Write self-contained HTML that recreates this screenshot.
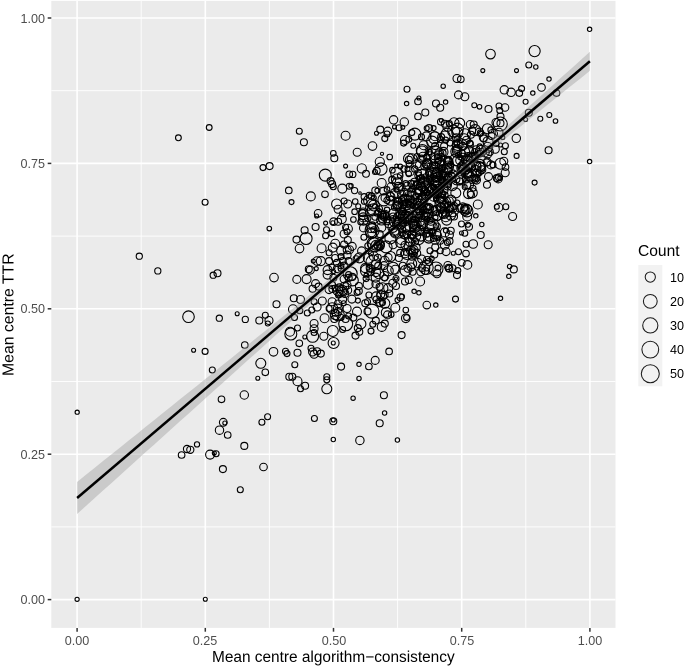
<!DOCTYPE html>
<html><head><meta charset="utf-8"><style>
html,body{margin:0;padding:0;background:#fff;}
body{width:685px;height:666px;position:relative;overflow:hidden;font-family:"Liberation Sans",sans-serif;}
#wrap{position:absolute;left:0;top:0;width:685px;height:666px;}
svg{position:absolute;left:0;top:0;}
.s{position:absolute;transform:scale(0.5);transform-origin:0 0;will-change:transform;white-space:nowrap;}
.yl{width:80px;text-align:right;font-size:25.2px;line-height:30px;color:#4D4D4D;}
.xl{width:80px;text-align:center;font-size:25.2px;line-height:30px;color:#4D4D4D;}
.ll{font-size:25.2px;line-height:30px;color:#000;}
.t{font-size:31.2px;line-height:36px;color:#000;}
</style></head><body><div id="wrap">
<svg width="685" height="666" viewBox="0 0 685 666">
<g fill="none" stroke="#000" stroke-width="1.1">
<rect x="51.3" y="0.9" width="564.2" height="627.0" fill="#EBEBEB" stroke="none"/>
<line x1="141.20" y1="0.9" x2="141.20" y2="627.9" stroke="#fff" stroke-width="0.9"/>
<line x1="51.3" y1="526.90" x2="615.5" y2="526.90" stroke="#fff" stroke-width="0.9"/>
<line x1="269.40" y1="0.9" x2="269.40" y2="627.9" stroke="#fff" stroke-width="0.9"/>
<line x1="51.3" y1="381.50" x2="615.5" y2="381.50" stroke="#fff" stroke-width="0.9"/>
<line x1="397.60" y1="0.9" x2="397.60" y2="627.9" stroke="#fff" stroke-width="0.9"/>
<line x1="51.3" y1="236.10" x2="615.5" y2="236.10" stroke="#fff" stroke-width="0.9"/>
<line x1="525.80" y1="0.9" x2="525.80" y2="627.9" stroke="#fff" stroke-width="0.9"/>
<line x1="51.3" y1="90.70" x2="615.5" y2="90.70" stroke="#fff" stroke-width="0.9"/>
<line x1="77.10" y1="0.9" x2="77.10" y2="627.9" stroke="#fff" stroke-width="1.6"/>
<line x1="51.3" y1="599.60" x2="615.5" y2="599.60" stroke="#fff" stroke-width="1.6"/>
<line x1="205.30" y1="0.9" x2="205.30" y2="627.9" stroke="#fff" stroke-width="1.6"/>
<line x1="51.3" y1="454.20" x2="615.5" y2="454.20" stroke="#fff" stroke-width="1.6"/>
<line x1="333.50" y1="0.9" x2="333.50" y2="627.9" stroke="#fff" stroke-width="1.6"/>
<line x1="51.3" y1="308.80" x2="615.5" y2="308.80" stroke="#fff" stroke-width="1.6"/>
<line x1="461.70" y1="0.9" x2="461.70" y2="627.9" stroke="#fff" stroke-width="1.6"/>
<line x1="51.3" y1="163.40" x2="615.5" y2="163.40" stroke="#fff" stroke-width="1.6"/>
<line x1="589.90" y1="0.9" x2="589.90" y2="627.9" stroke="#fff" stroke-width="1.6"/>
<line x1="51.3" y1="18.00" x2="615.5" y2="18.00" stroke="#fff" stroke-width="1.6"/>
<circle cx="178.4" cy="137.8" r="2.9"/>
<circle cx="209.2" cy="127.5" r="2.9"/>
<circle cx="205.1" cy="202.2" r="3.0"/>
<circle cx="139.3" cy="256.2" r="3.1"/>
<circle cx="157.8" cy="270.9" r="3.1"/>
<circle cx="213.2" cy="275.2" r="3.1"/>
<circle cx="217.5" cy="273.3" r="3.5"/>
<circle cx="188.5" cy="316.7" r="5.8"/>
<circle cx="219.3" cy="318.2" r="3.1"/>
<circle cx="237.2" cy="313.8" r="2.0"/>
<circle cx="245.3" cy="319.4" r="3.1"/>
<circle cx="193.6" cy="350.2" r="2.0"/>
<circle cx="205.1" cy="351.4" r="3.0"/>
<circle cx="244.8" cy="345.0" r="3.3"/>
<circle cx="212.3" cy="370.0" r="3.0"/>
<circle cx="221.5" cy="399.3" r="3.3"/>
<circle cx="244.3" cy="395.0" r="4.2"/>
<circle cx="267.6" cy="416.7" r="3.0"/>
<circle cx="261.9" cy="422.3" r="3.0"/>
<circle cx="223.3" cy="422.3" r="3.9"/>
<circle cx="224.8" cy="423.0" r="2.0"/>
<circle cx="219.5" cy="430.2" r="4.2"/>
<circle cx="227.7" cy="435.0" r="3.3"/>
<circle cx="244.3" cy="445.9" r="3.5"/>
<circle cx="197.0" cy="444.4" r="2.6"/>
<circle cx="187.0" cy="449.0" r="3.6"/>
<circle cx="190.3" cy="449.8" r="3.6"/>
<circle cx="181.6" cy="455.0" r="3.3"/>
<circle cx="210.1" cy="454.6" r="4.5"/>
<circle cx="214.3" cy="453.0" r="2.0"/>
<circle cx="216.1" cy="453.8" r="3.0"/>
<circle cx="222.9" cy="469.1" r="3.5"/>
<circle cx="263.5" cy="467.0" r="3.8"/>
<circle cx="240.3" cy="489.8" r="3.0"/>
<circle cx="77.2" cy="412.2" r="2.1"/>
<circle cx="77.1" cy="599.3" r="2.1"/>
<circle cx="205.3" cy="599.3" r="2.0"/>
<circle cx="407.0" cy="89.3" r="3.0"/>
<circle cx="443.2" cy="86.2" r="2.2"/>
<circle cx="418.9" cy="98.0" r="2.0"/>
<circle cx="418.0" cy="101.5" r="3.3"/>
<circle cx="406.6" cy="103.6" r="2.2"/>
<circle cx="436.0" cy="103.5" r="3.5"/>
<circle cx="440.2" cy="107.7" r="3.5"/>
<circle cx="445.6" cy="102.1" r="2.2"/>
<circle cx="425.3" cy="112.5" r="3.5"/>
<circle cx="418.0" cy="116.4" r="3.3"/>
<circle cx="393.6" cy="119.8" r="4.2"/>
<circle cx="404.3" cy="122.0" r="4.2"/>
<circle cx="399.0" cy="127.8" r="3.0"/>
<circle cx="394.5" cy="126.9" r="2.0"/>
<circle cx="402.8" cy="127.3" r="2.0"/>
<circle cx="440.8" cy="121.8" r="3.3"/>
<circle cx="441.1" cy="120.6" r="1.8"/>
<circle cx="429.1" cy="128.1" r="3.5"/>
<circle cx="433.6" cy="128.1" r="2.5"/>
<circle cx="380.3" cy="129.6" r="3.5"/>
<circle cx="387.8" cy="131.1" r="4.0"/>
<circle cx="376.5" cy="133.3" r="2.0"/>
<circle cx="384.8" cy="138.6" r="3.0"/>
<circle cx="387.0" cy="134.0" r="3.0"/>
<circle cx="414.8" cy="134.1" r="6.0"/>
<circle cx="411.8" cy="132.6" r="3.0"/>
<circle cx="405.0" cy="140.0" r="4.5"/>
<circle cx="408.8" cy="139.3" r="3.0"/>
<circle cx="413.3" cy="145.8" r="2.5"/>
<circle cx="372.5" cy="146.1" r="4.3"/>
<circle cx="357.2" cy="152.2" r="4.0"/>
<circle cx="432.1" cy="141.6" r="5.5"/>
<circle cx="441.1" cy="137.1" r="3.5"/>
<circle cx="447.1" cy="134.1" r="6.0"/>
<circle cx="445.6" cy="140.1" r="3.0"/>
<circle cx="449.3" cy="123.6" r="3.0"/>
<circle cx="435.1" cy="146.1" r="3.5"/>
<circle cx="444.1" cy="146.1" r="3.5"/>
<circle cx="403.6" cy="143.1" r="3.0"/>
<circle cx="450.1" cy="143.1" r="3.0"/>
<circle cx="299.3" cy="131.2" r="3.0"/>
<circle cx="303.9" cy="142.3" r="3.5"/>
<circle cx="345.6" cy="135.7" r="4.5"/>
<circle cx="333.3" cy="153.3" r="2.8"/>
<circle cx="334.3" cy="158.3" r="3.5"/>
<circle cx="345.6" cy="166.1" r="2.0"/>
<circle cx="263.0" cy="167.6" r="3.0"/>
<circle cx="269.6" cy="166.1" r="3.5"/>
<circle cx="325.3" cy="175.1" r="6.0"/>
<circle cx="330.6" cy="181.1" r="3.5"/>
<circle cx="332.1" cy="184.1" r="3.5"/>
<circle cx="333.3" cy="186.8" r="3.0"/>
<circle cx="342.3" cy="188.6" r="4.5"/>
<circle cx="349.3" cy="174.3" r="3.3"/>
<circle cx="349.3" cy="186.3" r="3.0"/>
<circle cx="288.8" cy="190.4" r="3.3"/>
<circle cx="310.8" cy="196.4" r="4.5"/>
<circle cx="325.0" cy="194.3" r="3.3"/>
<circle cx="291.5" cy="202.1" r="2.5"/>
<circle cx="269.3" cy="228.6" r="2.3"/>
<circle cx="318.1" cy="213.3" r="3.8"/>
<circle cx="316.6" cy="216.0" r="2.0"/>
<circle cx="315.6" cy="227.0" r="3.5"/>
<circle cx="304.6" cy="230.3" r="3.5"/>
<circle cx="306.1" cy="238.5" r="6.0"/>
<circle cx="296.5" cy="239.6" r="3.5"/>
<circle cx="299.5" cy="248.6" r="4.3"/>
<circle cx="325.6" cy="223.1" r="2.0"/>
<circle cx="326.5" cy="229.8" r="3.0"/>
<circle cx="325.6" cy="235.8" r="3.0"/>
<circle cx="331.8" cy="233.6" r="3.0"/>
<circle cx="333.6" cy="221.7" r="3.8"/>
<circle cx="332.8" cy="222.8" r="2.0"/>
<circle cx="338.1" cy="221.7" r="3.5"/>
<circle cx="336.6" cy="204.0" r="5.0"/>
<circle cx="338.1" cy="209.3" r="4.0"/>
<circle cx="342.6" cy="213.8" r="3.0"/>
<circle cx="344.1" cy="201.0" r="3.0"/>
<circle cx="347.8" cy="204.0" r="4.0"/>
<circle cx="345.6" cy="227.3" r="3.0"/>
<circle cx="344.1" cy="234.0" r="4.0"/>
<circle cx="347.1" cy="231.8" r="3.0"/>
<circle cx="321.6" cy="248.3" r="4.5"/>
<circle cx="332.8" cy="247.6" r="4.5"/>
<circle cx="329.1" cy="252.8" r="3.0"/>
<circle cx="341.1" cy="250.6" r="4.5"/>
<circle cx="344.1" cy="244.5" r="3.5"/>
<circle cx="347.8" cy="240.0" r="3.5"/>
<circle cx="317.1" cy="261.1" r="4.3"/>
<circle cx="320.8" cy="261.1" r="4.5"/>
<circle cx="313.3" cy="261.1" r="2.0"/>
<circle cx="329.1" cy="261.1" r="3.5"/>
<circle cx="335.1" cy="258.0" r="3.5"/>
<circle cx="341.1" cy="256.6" r="3.0"/>
<circle cx="347.1" cy="255.1" r="4.0"/>
<circle cx="348.6" cy="261.1" r="3.5"/>
<circle cx="308.8" cy="269.3" r="3.5"/>
<circle cx="310.3" cy="270.1" r="4.0"/>
<circle cx="316.3" cy="268.6" r="2.0"/>
<circle cx="327.6" cy="270.1" r="4.5"/>
<circle cx="332.1" cy="267.1" r="3.0"/>
<circle cx="337.3" cy="268.6" r="4.0"/>
<circle cx="327.6" cy="274.6" r="4.5"/>
<circle cx="333.6" cy="271.6" r="2.0"/>
<circle cx="341.1" cy="268.6" r="3.0"/>
<circle cx="344.1" cy="265.6" r="3.5"/>
<circle cx="274.0" cy="277.6" r="4.3"/>
<circle cx="296.8" cy="279.4" r="4.0"/>
<circle cx="306.6" cy="279.1" r="4.5"/>
<circle cx="315.6" cy="283.6" r="4.0"/>
<circle cx="312.6" cy="288.8" r="3.5"/>
<circle cx="318.6" cy="286.6" r="3.5"/>
<circle cx="329.1" cy="289.6" r="4.0"/>
<circle cx="332.1" cy="285.1" r="3.5"/>
<circle cx="335.1" cy="288.1" r="3.0"/>
<circle cx="344.1" cy="279.1" r="4.0"/>
<circle cx="347.1" cy="285.1" r="4.0"/>
<circle cx="342.6" cy="291.1" r="4.0"/>
<circle cx="348.6" cy="274.6" r="3.0"/>
<circle cx="276.5" cy="304.3" r="3.5"/>
<circle cx="259.3" cy="320.5" r="3.5"/>
<circle cx="265.3" cy="315.3" r="3.0"/>
<circle cx="269.0" cy="320.5" r="4.0"/>
<circle cx="267.8" cy="323.5" r="2.5"/>
<circle cx="293.8" cy="298.3" r="3.5"/>
<circle cx="300.5" cy="299.5" r="4.0"/>
<circle cx="293.0" cy="309.3" r="4.5"/>
<circle cx="294.5" cy="317.5" r="3.0"/>
<circle cx="299.8" cy="310.8" r="3.0"/>
<circle cx="307.3" cy="313.0" r="3.0"/>
<circle cx="311.8" cy="310.0" r="3.0"/>
<circle cx="317.1" cy="307.0" r="4.0"/>
<circle cx="322.3" cy="301.0" r="4.0"/>
<circle cx="314.1" cy="301.8" r="3.0"/>
<circle cx="324.6" cy="318.3" r="4.5"/>
<circle cx="314.1" cy="323.5" r="4.0"/>
<circle cx="314.1" cy="328.8" r="4.0"/>
<circle cx="314.1" cy="332.5" r="3.0"/>
<circle cx="312.6" cy="336.3" r="6.0"/>
<circle cx="290.0" cy="331.8" r="4.5"/>
<circle cx="290.8" cy="334.0" r="6.0"/>
<circle cx="297.5" cy="328.0" r="3.0"/>
<circle cx="304.8" cy="337.0" r="2.0"/>
<circle cx="299.3" cy="343.3" r="3.3"/>
<circle cx="323.8" cy="336.3" r="4.0"/>
<circle cx="332.8" cy="331.0" r="5.5"/>
<circle cx="333.6" cy="343.0" r="5.5"/>
<circle cx="333.3" cy="343.0" r="2.0"/>
<circle cx="342.6" cy="329.5" r="3.0"/>
<circle cx="334.3" cy="319.0" r="3.5"/>
<circle cx="341.1" cy="317.5" r="3.0"/>
<circle cx="345.6" cy="319.0" r="3.5"/>
<circle cx="332.1" cy="301.8" r="4.0"/>
<circle cx="338.1" cy="304.0" r="4.0"/>
<circle cx="342.6" cy="299.5" r="4.0"/>
<circle cx="347.1" cy="308.5" r="4.0"/>
<circle cx="329.1" cy="308.5" r="3.0"/>
<circle cx="338.1" cy="311.5" r="4.0"/>
<circle cx="348.6" cy="316.0" r="3.0"/>
<circle cx="273.5" cy="351.8" r="4.3"/>
<circle cx="285.5" cy="351.3" r="3.0"/>
<circle cx="287.0" cy="353.6" r="3.0"/>
<circle cx="297.5" cy="352.8" r="3.5"/>
<circle cx="311.0" cy="348.3" r="3.0"/>
<circle cx="312.6" cy="352.0" r="4.0"/>
<circle cx="317.1" cy="351.3" r="3.5"/>
<circle cx="320.8" cy="353.6" r="3.5"/>
<circle cx="314.1" cy="354.3" r="4.0"/>
<circle cx="260.8" cy="363.3" r="5.0"/>
<circle cx="265.3" cy="372.3" r="3.3"/>
<circle cx="257.8" cy="378.3" r="2.0"/>
<circle cx="294.8" cy="364.8" r="3.0"/>
<circle cx="341.1" cy="366.6" r="3.5"/>
<circle cx="289.3" cy="376.8" r="3.5"/>
<circle cx="292.3" cy="376.8" r="3.5"/>
<circle cx="297.5" cy="381.3" r="4.5"/>
<circle cx="305.1" cy="385.8" r="3.5"/>
<circle cx="300.5" cy="388.8" r="3.0"/>
<circle cx="326.8" cy="376.8" r="3.0"/>
<circle cx="326.8" cy="379.8" r="3.0"/>
<circle cx="326.8" cy="388.8" r="5.0"/>
<circle cx="314.4" cy="418.5" r="3.0"/>
<circle cx="333.3" cy="421.2" r="3.5"/>
<circle cx="333.3" cy="420.0" r="2.0"/>
<circle cx="333.3" cy="439.5" r="2.2"/>
<circle cx="414.1" cy="291.3" r="2.2"/>
<circle cx="418.9" cy="292.8" r="2.2"/>
<circle cx="426.8" cy="305.1" r="3.8"/>
<circle cx="435.8" cy="305.1" r="2.2"/>
<circle cx="437.0" cy="273.7" r="4.0"/>
<circle cx="449.3" cy="268.8" r="3.5"/>
<circle cx="405.8" cy="310.1" r="2.8"/>
<circle cx="405.8" cy="318.3" r="4.3"/>
<circle cx="406.6" cy="317.6" r="3.0"/>
<circle cx="391.2" cy="314.6" r="2.8"/>
<circle cx="384.8" cy="323.6" r="3.5"/>
<circle cx="375.8" cy="320.6" r="3.5"/>
<circle cx="372.8" cy="324.3" r="3.0"/>
<circle cx="371.0" cy="331.1" r="3.0"/>
<circle cx="401.6" cy="335.1" r="3.5"/>
<circle cx="389.1" cy="351.4" r="3.3"/>
<circle cx="357.8" cy="328.1" r="3.5"/>
<circle cx="359.3" cy="331.8" r="3.5"/>
<circle cx="355.5" cy="335.6" r="3.5"/>
<circle cx="353.3" cy="317.6" r="3.5"/>
<circle cx="357.0" cy="311.6" r="4.5"/>
<circle cx="365.3" cy="303.3" r="3.5"/>
<circle cx="367.5" cy="301.8" r="3.0"/>
<circle cx="395.3" cy="307.8" r="4.5"/>
<circle cx="384.8" cy="303.3" r="5.0"/>
<circle cx="382.5" cy="302.6" r="3.0"/>
<circle cx="400.5" cy="297.3" r="3.5"/>
<circle cx="402.0" cy="296.5" r="2.5"/>
<circle cx="389.3" cy="293.5" r="3.5"/>
<circle cx="396.0" cy="286.0" r="3.5"/>
<circle cx="405.0" cy="281.5" r="3.5"/>
<circle cx="408.8" cy="280.0" r="3.5"/>
<circle cx="396.0" cy="278.5" r="3.0"/>
<circle cx="396.0" cy="278.5" r="1.5"/>
<circle cx="420.1" cy="281.5" r="4.5"/>
<circle cx="412.6" cy="271.8" r="3.5"/>
<circle cx="420.8" cy="271.8" r="4.0"/>
<circle cx="425.3" cy="271.0" r="3.5"/>
<circle cx="426.8" cy="268.0" r="3.0"/>
<circle cx="429.1" cy="262.0" r="3.5"/>
<circle cx="421.6" cy="259.0" r="4.0"/>
<circle cx="434.3" cy="254.5" r="3.5"/>
<circle cx="440.3" cy="250.8" r="3.0"/>
<circle cx="402.8" cy="265.8" r="3.5"/>
<circle cx="411.8" cy="253.0" r="3.5"/>
<circle cx="414.1" cy="255.3" r="3.0"/>
<circle cx="490.5" cy="54.1" r="4.8"/>
<circle cx="482.8" cy="70.6" r="2.0"/>
<circle cx="534.6" cy="51.1" r="5.6"/>
<circle cx="528.8" cy="65.0" r="3.0"/>
<circle cx="535.8" cy="67.0" r="2.2"/>
<circle cx="516.5" cy="70.6" r="2.0"/>
<circle cx="457.0" cy="78.5" r="4.0"/>
<circle cx="460.8" cy="79.3" r="3.3"/>
<circle cx="458.5" cy="94.9" r="4.0"/>
<circle cx="464.8" cy="96.8" r="4.0"/>
<circle cx="504.3" cy="89.8" r="4.2"/>
<circle cx="511.1" cy="92.3" r="4.2"/>
<circle cx="519.3" cy="93.1" r="3.3"/>
<circle cx="521.6" cy="88.6" r="3.0"/>
<circle cx="532.8" cy="93.1" r="2.2"/>
<circle cx="541.5" cy="87.4" r="3.8"/>
<circle cx="549.0" cy="79.1" r="2.2"/>
<circle cx="589.6" cy="29.3" r="2.2"/>
<circle cx="556.5" cy="93.1" r="3.3"/>
<circle cx="525.6" cy="101.8" r="2.5"/>
<circle cx="549.3" cy="115.0" r="2.5"/>
<circle cx="540.3" cy="118.8" r="2.5"/>
<circle cx="528.8" cy="112.8" r="3.5"/>
<circle cx="525.6" cy="119.5" r="2.0"/>
<circle cx="516.3" cy="138.3" r="4.2"/>
<circle cx="548.6" cy="150.3" r="3.5"/>
<circle cx="516.6" cy="155.9" r="2.5"/>
<circle cx="505.4" cy="145.8" r="3.0"/>
<circle cx="504.3" cy="151.8" r="3.0"/>
<circle cx="500.5" cy="145.0" r="2.0"/>
<circle cx="502.8" cy="137.5" r="2.0"/>
<circle cx="505.5" cy="167.1" r="3.3"/>
<circle cx="534.6" cy="182.6" r="2.5"/>
<circle cx="490.8" cy="164.9" r="4.0"/>
<circle cx="493.0" cy="164.9" r="3.0"/>
<circle cx="487.8" cy="154.0" r="4.0"/>
<circle cx="481.8" cy="169.8" r="4.0"/>
<circle cx="488.5" cy="176.6" r="4.0"/>
<circle cx="499.0" cy="177.3" r="3.5"/>
<circle cx="499.8" cy="178.1" r="2.0"/>
<circle cx="496.8" cy="178.1" r="3.5"/>
<circle cx="487.0" cy="184.8" r="3.5"/>
<circle cx="474.3" cy="105.3" r="2.5"/>
<circle cx="479.5" cy="106.8" r="2.3"/>
<circle cx="488.5" cy="109.0" r="3.5"/>
<circle cx="499.0" cy="106.0" r="3.0"/>
<circle cx="505.0" cy="107.5" r="3.8"/>
<circle cx="499.8" cy="110.5" r="3.0"/>
<circle cx="500.5" cy="116.5" r="3.5"/>
<circle cx="500.5" cy="123.3" r="3.5"/>
<circle cx="496.0" cy="122.5" r="4.0"/>
<circle cx="493.0" cy="133.8" r="4.5"/>
<circle cx="483.3" cy="137.5" r="4.0"/>
<circle cx="491.5" cy="136.0" r="3.5"/>
<circle cx="496.0" cy="143.5" r="3.0"/>
<circle cx="555.5" cy="121.0" r="2.3"/>
<circle cx="589.6" cy="161.6" r="2.2"/>
<circle cx="498.7" cy="207.5" r="4.2"/>
<circle cx="496.8" cy="206.8" r="2.5"/>
<circle cx="505.8" cy="206.8" r="3.0"/>
<circle cx="512.6" cy="216.5" r="4.0"/>
<circle cx="475.8" cy="215.8" r="2.2"/>
<circle cx="481.8" cy="224.5" r="2.2"/>
<circle cx="467.2" cy="216.5" r="4.5"/>
<circle cx="454.0" cy="216.5" r="3.5"/>
<circle cx="461.5" cy="224.0" r="3.0"/>
<circle cx="469.0" cy="226.7" r="3.5"/>
<circle cx="464.8" cy="233.3" r="3.0"/>
<circle cx="461.5" cy="233.0" r="2.0"/>
<circle cx="466.0" cy="244.3" r="3.0"/>
<circle cx="473.2" cy="244.0" r="4.3"/>
<circle cx="488.2" cy="244.7" r="4.0"/>
<circle cx="458.5" cy="251.8" r="3.0"/>
<circle cx="453.3" cy="253.3" r="2.0"/>
<circle cx="466.0" cy="253.6" r="3.3"/>
<circle cx="461.8" cy="262.8" r="3.3"/>
<circle cx="467.5" cy="264.9" r="4.3"/>
<circle cx="452.5" cy="268.3" r="3.5"/>
<circle cx="457.8" cy="270.6" r="3.0"/>
<circle cx="457.0" cy="275.1" r="3.5"/>
<circle cx="509.6" cy="266.4" r="2.2"/>
<circle cx="513.8" cy="269.4" r="3.5"/>
<circle cx="508.8" cy="276.3" r="2.2"/>
<circle cx="500.5" cy="298.3" r="2.2"/>
<circle cx="455.5" cy="299.1" r="3.0"/>
<circle cx="454.0" cy="206.0" r="3.5"/>
<circle cx="460.0" cy="208.3" r="4.0"/>
<circle cx="464.5" cy="207.5" r="3.5"/>
<circle cx="457.0" cy="203.0" r="3.0"/>
<circle cx="375.2" cy="360.4" r="4.0"/>
<circle cx="368.9" cy="366.5" r="3.3"/>
<circle cx="359.0" cy="364.3" r="2.2"/>
<circle cx="359.0" cy="378.4" r="2.2"/>
<circle cx="353.1" cy="398.2" r="2.2"/>
<circle cx="383.9" cy="395.3" r="3.5"/>
<circle cx="384.6" cy="413.0" r="2.2"/>
<circle cx="379.7" cy="423.2" r="3.5"/>
<circle cx="359.9" cy="440.4" r="4.2"/>
<circle cx="397.4" cy="440.0" r="2.2"/>
<circle cx="382.0" cy="153.8" r="1.6"/>
<circle cx="389.7" cy="157.0" r="2.8"/>
<circle cx="408.7" cy="158.5" r="5.2"/>
<circle cx="379.8" cy="161.8" r="4.6"/>
<circle cx="381.0" cy="169.0" r="6.1"/>
<circle cx="375.0" cy="172.0" r="2.5"/>
<circle cx="376.8" cy="170.8" r="3.4"/>
<circle cx="361.8" cy="168.4" r="4.6"/>
<circle cx="366.0" cy="173.8" r="3.4"/>
<circle cx="352.8" cy="174.4" r="3.1"/>
<circle cx="392.4" cy="170.2" r="2.8"/>
<circle cx="396.6" cy="166.0" r="1.9"/>
<circle cx="400.2" cy="166.6" r="2.5"/>
<circle cx="400.2" cy="175.6" r="2.8"/>
<circle cx="403.9" cy="169.0" r="3.1"/>
<circle cx="407.5" cy="169.0" r="2.5"/>
<circle cx="351.0" cy="185.8" r="2.2"/>
<circle cx="354.6" cy="190.6" r="3.1"/>
<circle cx="360.0" cy="193.0" r="1.3"/>
<circle cx="364.2" cy="196.7" r="3.1"/>
<circle cx="371.4" cy="196.0" r="3.1"/>
<circle cx="377.4" cy="190.6" r="2.5"/>
<circle cx="383.4" cy="191.2" r="3.7"/>
<circle cx="387.0" cy="189.4" r="2.8"/>
<circle cx="390.6" cy="196.7" r="4.3"/>
<circle cx="396.6" cy="189.4" r="2.5"/>
<circle cx="401.5" cy="187.0" r="3.7"/>
<circle cx="355.2" cy="201.5" r="2.8"/>
<circle cx="364.2" cy="201.5" r="2.8"/>
<circle cx="373.8" cy="197.9" r="2.5"/>
<circle cx="358.2" cy="206.3" r="2.5"/>
<circle cx="354.6" cy="211.7" r="2.8"/>
<circle cx="363.0" cy="212.3" r="4.3"/>
<circle cx="368.4" cy="207.5" r="2.8"/>
<circle cx="375.0" cy="206.3" r="2.5"/>
<circle cx="378.6" cy="211.7" r="3.1"/>
<circle cx="387.0" cy="200.3" r="3.1"/>
<circle cx="391.8" cy="198.5" r="2.5"/>
<circle cx="399.0" cy="200.3" r="3.1"/>
<circle cx="405.7" cy="183.4" r="2.8"/>
<circle cx="411.0" cy="183.4" r="3.1"/>
<circle cx="415.9" cy="183.4" r="2.5"/>
<circle cx="411.7" cy="189.4" r="2.8"/>
<circle cx="406.3" cy="193.0" r="2.8"/>
<circle cx="408.7" cy="173.8" r="2.8"/>
<circle cx="414.7" cy="169.0" r="3.1"/>
<circle cx="418.3" cy="172.6" r="3.1"/>
<circle cx="424.3" cy="166.6" r="3.4"/>
<circle cx="427.9" cy="163.0" r="3.1"/>
<circle cx="426.7" cy="157.0" r="3.1"/>
<circle cx="429.1" cy="152.2" r="2.8"/>
<circle cx="425.5" cy="176.2" r="2.5"/>
<circle cx="421.9" cy="181.0" r="2.8"/>
<circle cx="418.3" cy="178.6" r="2.2"/>
<circle cx="419.5" cy="187.0" r="2.8"/>
<circle cx="426.7" cy="185.8" r="2.8"/>
<circle cx="424.3" cy="193.0" r="2.8"/>
<circle cx="415.9" cy="195.5" r="2.8"/>
<circle cx="411.0" cy="200.3" r="2.5"/>
<circle cx="405.0" cy="202.7" r="2.8"/>
<circle cx="402.6" cy="207.5" r="2.8"/>
<circle cx="394.2" cy="207.5" r="2.8"/>
<circle cx="387.0" cy="209.9" r="2.8"/>
<circle cx="383.4" cy="215.9" r="2.5"/>
<circle cx="375.0" cy="217.1" r="3.1"/>
<circle cx="367.8" cy="218.3" r="3.1"/>
<circle cx="360.6" cy="221.9" r="2.8"/>
<circle cx="353.4" cy="219.5" r="2.8"/>
<circle cx="393.0" cy="218.3" r="2.8"/>
<circle cx="401.5" cy="217.1" r="2.8"/>
<circle cx="408.7" cy="212.3" r="2.8"/>
<circle cx="415.9" cy="206.3" r="2.8"/>
<circle cx="423.1" cy="201.5" r="2.8"/>
<circle cx="427.9" cy="195.5" r="2.8"/>
<circle cx="429.1" cy="207.5" r="2.5"/>
<circle cx="421.9" cy="212.3" r="2.5"/>
<circle cx="413.5" cy="219.5" r="2.5"/>
<circle cx="406.3" cy="223.1" r="2.5"/>
<circle cx="426.7" cy="219.5" r="2.5"/>
<circle cx="387.0" cy="221.9" r="2.8"/>
<circle cx="434.6" cy="137.8" r="6.0"/>
<circle cx="435.0" cy="136.2" r="4.5"/>
<circle cx="426.5" cy="136.4" r="4.5"/>
<circle cx="444.8" cy="123.8" r="3.5"/>
<circle cx="423.7" cy="145.3" r="4.5"/>
<circle cx="422.3" cy="150.5" r="6.0"/>
<circle cx="440.6" cy="139.5" r="3.0"/>
<circle cx="421.5" cy="136.9" r="3.0"/>
<circle cx="426.7" cy="128.3" r="2.5"/>
<circle cx="464.9" cy="134.2" r="5.5"/>
<circle cx="466.6" cy="140.2" r="4.0"/>
<circle cx="470.9" cy="134.7" r="3.5"/>
<circle cx="480.9" cy="150.9" r="5.5"/>
<circle cx="472.2" cy="130.5" r="3.5"/>
<circle cx="459.7" cy="123.1" r="5.0"/>
<circle cx="463.0" cy="146.4" r="4.0"/>
<circle cx="479.7" cy="146.4" r="2.5"/>
<circle cx="457.3" cy="148.3" r="4.0"/>
<circle cx="480.4" cy="132.9" r="3.0"/>
<circle cx="469.9" cy="144.4" r="3.5"/>
<circle cx="453.6" cy="131.0" r="6.0"/>
<circle cx="473.7" cy="124.5" r="3.5"/>
<circle cx="454.0" cy="122.8" r="5.0"/>
<circle cx="456.3" cy="137.8" r="4.0"/>
<circle cx="456.7" cy="143.0" r="3.0"/>
<circle cx="470.3" cy="124.5" r="4.0"/>
<circle cx="457.4" cy="129.1" r="6.0"/>
<circle cx="475.1" cy="130.1" r="5.5"/>
<circle cx="457.3" cy="132.8" r="5.5"/>
<circle cx="500.3" cy="124.0" r="7.0"/>
<circle cx="487.4" cy="128.7" r="5.0"/>
<circle cx="490.9" cy="129.9" r="3.0"/>
<circle cx="483.7" cy="138.5" r="3.5"/>
<circle cx="499.0" cy="132.2" r="4.0"/>
<circle cx="419.8" cy="165.5" r="4.5"/>
<circle cx="417.0" cy="156.5" r="3.0"/>
<circle cx="418.3" cy="175.5" r="3.5"/>
<circle cx="396.7" cy="173.2" r="6.0"/>
<circle cx="396.9" cy="179.5" r="5.5"/>
<circle cx="409.1" cy="163.6" r="3.0"/>
<circle cx="392.2" cy="179.9" r="3.5"/>
<circle cx="412.1" cy="158.7" r="5.0"/>
<circle cx="408.9" cy="159.8" r="3.5"/>
<circle cx="442.6" cy="153.1" r="3.5"/>
<circle cx="437.8" cy="176.6" r="4.5"/>
<circle cx="429.4" cy="178.5" r="3.5"/>
<circle cx="421.5" cy="159.1" r="4.0"/>
<circle cx="422.8" cy="156.3" r="4.0"/>
<circle cx="438.2" cy="154.9" r="4.0"/>
<circle cx="447.7" cy="180.4" r="4.5"/>
<circle cx="441.7" cy="168.5" r="3.0"/>
<circle cx="422.1" cy="151.5" r="5.5"/>
<circle cx="442.0" cy="179.9" r="2.5"/>
<circle cx="440.1" cy="165.5" r="5.0"/>
<circle cx="430.6" cy="181.0" r="3.0"/>
<circle cx="437.4" cy="173.1" r="5.5"/>
<circle cx="443.1" cy="172.1" r="5.0"/>
<circle cx="448.5" cy="161.6" r="4.5"/>
<circle cx="448.0" cy="177.1" r="4.0"/>
<circle cx="444.7" cy="176.9" r="4.5"/>
<circle cx="439.7" cy="162.5" r="4.5"/>
<circle cx="439.3" cy="153.4" r="4.5"/>
<circle cx="450.8" cy="177.4" r="5.0"/>
<circle cx="432.7" cy="173.1" r="4.5"/>
<circle cx="434.2" cy="176.2" r="3.0"/>
<circle cx="443.5" cy="151.9" r="4.5"/>
<circle cx="435.4" cy="157.9" r="5.0"/>
<circle cx="435.9" cy="169.4" r="6.0"/>
<circle cx="428.7" cy="151.3" r="3.5"/>
<circle cx="441.3" cy="157.1" r="3.5"/>
<circle cx="448.2" cy="170.8" r="4.0"/>
<circle cx="447.8" cy="160.8" r="4.5"/>
<circle cx="427.0" cy="163.9" r="5.0"/>
<circle cx="448.4" cy="177.4" r="4.0"/>
<circle cx="438.5" cy="160.5" r="3.0"/>
<circle cx="435.9" cy="176.1" r="5.5"/>
<circle cx="442.3" cy="179.5" r="3.5"/>
<circle cx="426.1" cy="164.5" r="3.5"/>
<circle cx="427.4" cy="163.4" r="4.5"/>
<circle cx="435.8" cy="160.5" r="5.5"/>
<circle cx="450.5" cy="164.6" r="3.0"/>
<circle cx="421.9" cy="177.2" r="2.5"/>
<circle cx="442.3" cy="168.1" r="3.5"/>
<circle cx="474.7" cy="151.6" r="3.0"/>
<circle cx="464.6" cy="151.7" r="5.0"/>
<circle cx="458.1" cy="155.2" r="2.5"/>
<circle cx="469.9" cy="164.4" r="4.5"/>
<circle cx="470.7" cy="175.2" r="6.0"/>
<circle cx="471.5" cy="157.0" r="4.0"/>
<circle cx="456.4" cy="151.3" r="4.0"/>
<circle cx="472.4" cy="156.4" r="3.5"/>
<circle cx="461.4" cy="171.9" r="4.0"/>
<circle cx="469.4" cy="173.7" r="4.0"/>
<circle cx="474.8" cy="178.2" r="3.0"/>
<circle cx="479.0" cy="172.7" r="3.0"/>
<circle cx="464.6" cy="169.8" r="5.5"/>
<circle cx="462.3" cy="168.1" r="5.5"/>
<circle cx="474.9" cy="179.3" r="4.0"/>
<circle cx="470.5" cy="157.1" r="5.0"/>
<circle cx="475.6" cy="170.2" r="5.0"/>
<circle cx="457.4" cy="178.0" r="7.0"/>
<circle cx="480.3" cy="167.1" r="5.0"/>
<circle cx="460.6" cy="178.3" r="5.5"/>
<circle cx="461.5" cy="153.5" r="4.0"/>
<circle cx="467.5" cy="174.0" r="4.0"/>
<circle cx="451.9" cy="175.3" r="3.0"/>
<circle cx="475.0" cy="156.2" r="4.0"/>
<circle cx="474.6" cy="155.2" r="3.0"/>
<circle cx="466.5" cy="172.7" r="5.5"/>
<circle cx="471.7" cy="179.4" r="4.0"/>
<circle cx="479.5" cy="153.6" r="3.5"/>
<circle cx="466.8" cy="159.7" r="5.0"/>
<circle cx="470.2" cy="166.7" r="5.5"/>
<circle cx="467.8" cy="160.4" r="4.0"/>
<circle cx="476.4" cy="178.0" r="3.5"/>
<circle cx="476.5" cy="180.1" r="4.0"/>
<circle cx="468.2" cy="157.0" r="4.5"/>
<circle cx="466.1" cy="169.2" r="2.5"/>
<circle cx="390.1" cy="196.5" r="4.0"/>
<circle cx="385.0" cy="197.9" r="4.0"/>
<circle cx="381.7" cy="183.0" r="4.5"/>
<circle cx="373.4" cy="209.7" r="6.0"/>
<circle cx="369.1" cy="195.2" r="3.0"/>
<circle cx="374.0" cy="205.5" r="5.5"/>
<circle cx="375.3" cy="190.5" r="3.5"/>
<circle cx="379.5" cy="208.8" r="3.0"/>
<circle cx="414.4" cy="181.7" r="3.5"/>
<circle cx="397.8" cy="201.6" r="3.5"/>
<circle cx="401.7" cy="199.6" r="3.0"/>
<circle cx="412.9" cy="184.7" r="4.0"/>
<circle cx="398.5" cy="186.9" r="4.5"/>
<circle cx="404.1" cy="192.3" r="4.0"/>
<circle cx="406.9" cy="185.8" r="3.5"/>
<circle cx="409.9" cy="200.2" r="4.5"/>
<circle cx="416.5" cy="199.4" r="5.5"/>
<circle cx="398.0" cy="203.2" r="5.0"/>
<circle cx="418.1" cy="190.5" r="3.5"/>
<circle cx="418.7" cy="187.5" r="7.0"/>
<circle cx="417.6" cy="185.0" r="3.5"/>
<circle cx="412.8" cy="188.8" r="3.0"/>
<circle cx="416.0" cy="193.6" r="5.0"/>
<circle cx="394.8" cy="193.1" r="4.5"/>
<circle cx="391.5" cy="187.0" r="4.5"/>
<circle cx="418.3" cy="210.1" r="3.0"/>
<circle cx="406.2" cy="203.7" r="4.0"/>
<circle cx="441.6" cy="186.7" r="3.0"/>
<circle cx="424.2" cy="182.1" r="4.5"/>
<circle cx="436.4" cy="198.1" r="3.0"/>
<circle cx="426.5" cy="187.1" r="5.5"/>
<circle cx="450.7" cy="208.8" r="3.0"/>
<circle cx="422.9" cy="209.5" r="4.0"/>
<circle cx="443.9" cy="190.8" r="4.0"/>
<circle cx="436.5" cy="193.9" r="4.5"/>
<circle cx="421.4" cy="202.0" r="5.5"/>
<circle cx="426.4" cy="194.6" r="5.0"/>
<circle cx="433.2" cy="186.9" r="3.0"/>
<circle cx="436.4" cy="181.5" r="5.5"/>
<circle cx="445.1" cy="202.1" r="5.5"/>
<circle cx="439.9" cy="193.1" r="4.5"/>
<circle cx="436.1" cy="210.5" r="5.0"/>
<circle cx="428.7" cy="208.3" r="5.0"/>
<circle cx="444.3" cy="205.4" r="4.0"/>
<circle cx="447.9" cy="207.4" r="5.0"/>
<circle cx="444.0" cy="204.0" r="4.0"/>
<circle cx="442.7" cy="183.1" r="4.0"/>
<circle cx="435.1" cy="181.3" r="4.0"/>
<circle cx="440.2" cy="199.7" r="3.5"/>
<circle cx="449.3" cy="201.0" r="4.0"/>
<circle cx="440.8" cy="198.1" r="4.5"/>
<circle cx="432.7" cy="211.0" r="4.5"/>
<circle cx="442.0" cy="203.9" r="7.0"/>
<circle cx="421.7" cy="199.5" r="5.0"/>
<circle cx="428.7" cy="193.0" r="2.5"/>
<circle cx="426.9" cy="192.3" r="3.0"/>
<circle cx="428.5" cy="208.2" r="4.5"/>
<circle cx="436.2" cy="210.0" r="4.5"/>
<circle cx="450.9" cy="200.1" r="5.0"/>
<circle cx="423.3" cy="198.9" r="5.0"/>
<circle cx="422.4" cy="208.9" r="3.0"/>
<circle cx="435.2" cy="186.1" r="4.0"/>
<circle cx="439.3" cy="182.8" r="6.0"/>
<circle cx="433.6" cy="196.8" r="4.5"/>
<circle cx="432.0" cy="189.6" r="4.5"/>
<circle cx="437.8" cy="189.5" r="5.0"/>
<circle cx="459.9" cy="181.4" r="3.5"/>
<circle cx="452.3" cy="185.7" r="5.0"/>
<circle cx="462.7" cy="207.9" r="5.0"/>
<circle cx="452.5" cy="210.7" r="6.0"/>
<circle cx="453.2" cy="208.2" r="4.0"/>
<circle cx="465.3" cy="210.2" r="3.5"/>
<circle cx="466.7" cy="209.1" r="5.0"/>
<circle cx="465.1" cy="210.4" r="5.0"/>
<circle cx="469.1" cy="184.5" r="4.5"/>
<circle cx="464.7" cy="187.1" r="2.5"/>
<circle cx="466.8" cy="184.7" r="4.0"/>
<circle cx="471.0" cy="194.7" r="3.5"/>
<circle cx="468.5" cy="193.6" r="5.0"/>
<circle cx="466.9" cy="210.9" r="6.0"/>
<circle cx="473.0" cy="188.2" r="3.0"/>
<circle cx="477.8" cy="204.5" r="4.5"/>
<circle cx="341.8" cy="219.1" r="4.5"/>
<circle cx="347.9" cy="228.8" r="4.5"/>
<circle cx="383.6" cy="216.7" r="3.5"/>
<circle cx="390.4" cy="238.5" r="5.5"/>
<circle cx="362.2" cy="212.8" r="3.5"/>
<circle cx="373.8" cy="229.7" r="3.0"/>
<circle cx="377.2" cy="213.2" r="3.0"/>
<circle cx="381.3" cy="227.5" r="4.5"/>
<circle cx="372.2" cy="225.4" r="3.5"/>
<circle cx="371.3" cy="233.3" r="5.5"/>
<circle cx="363.2" cy="214.6" r="5.0"/>
<circle cx="379.7" cy="234.1" r="3.5"/>
<circle cx="373.7" cy="218.7" r="5.0"/>
<circle cx="372.1" cy="230.6" r="7.0"/>
<circle cx="370.8" cy="227.5" r="5.0"/>
<circle cx="388.6" cy="223.8" r="4.0"/>
<circle cx="363.9" cy="237.3" r="3.0"/>
<circle cx="363.5" cy="227.9" r="4.0"/>
<circle cx="381.6" cy="220.0" r="5.0"/>
<circle cx="363.3" cy="217.4" r="4.5"/>
<circle cx="363.5" cy="220.1" r="5.0"/>
<circle cx="381.8" cy="219.5" r="3.0"/>
<circle cx="371.7" cy="232.8" r="4.0"/>
<circle cx="394.5" cy="232.3" r="4.5"/>
<circle cx="418.6" cy="239.2" r="5.5"/>
<circle cx="404.1" cy="235.1" r="3.5"/>
<circle cx="400.5" cy="223.0" r="6.0"/>
<circle cx="417.8" cy="218.4" r="4.0"/>
<circle cx="402.0" cy="221.9" r="4.0"/>
<circle cx="402.6" cy="216.8" r="4.5"/>
<circle cx="414.9" cy="227.2" r="5.5"/>
<circle cx="407.9" cy="216.3" r="5.0"/>
<circle cx="417.4" cy="219.4" r="2.5"/>
<circle cx="406.5" cy="227.3" r="4.5"/>
<circle cx="420.0" cy="230.5" r="5.0"/>
<circle cx="392.9" cy="227.4" r="5.0"/>
<circle cx="393.5" cy="213.5" r="5.0"/>
<circle cx="418.0" cy="213.5" r="4.5"/>
<circle cx="395.3" cy="233.4" r="4.5"/>
<circle cx="398.4" cy="217.6" r="5.0"/>
<circle cx="406.6" cy="233.9" r="4.0"/>
<circle cx="401.1" cy="240.0" r="4.5"/>
<circle cx="405.8" cy="227.1" r="5.0"/>
<circle cx="412.2" cy="238.4" r="4.0"/>
<circle cx="415.8" cy="231.0" r="5.5"/>
<circle cx="415.2" cy="236.0" r="5.5"/>
<circle cx="419.7" cy="230.2" r="4.0"/>
<circle cx="412.3" cy="235.1" r="4.0"/>
<circle cx="403.6" cy="215.4" r="5.0"/>
<circle cx="420.7" cy="222.3" r="3.5"/>
<circle cx="397.1" cy="223.7" r="3.5"/>
<circle cx="420.1" cy="212.8" r="3.5"/>
<circle cx="394.4" cy="230.4" r="5.0"/>
<circle cx="426.4" cy="212.9" r="4.0"/>
<circle cx="438.5" cy="238.3" r="2.5"/>
<circle cx="424.3" cy="216.5" r="3.5"/>
<circle cx="428.1" cy="232.5" r="4.5"/>
<circle cx="427.7" cy="216.5" r="3.5"/>
<circle cx="426.2" cy="233.7" r="3.5"/>
<circle cx="437.4" cy="235.5" r="4.0"/>
<circle cx="428.8" cy="237.6" r="5.5"/>
<circle cx="431.3" cy="227.4" r="6.0"/>
<circle cx="435.5" cy="217.6" r="2.5"/>
<circle cx="449.4" cy="235.0" r="4.0"/>
<circle cx="436.8" cy="226.5" r="3.5"/>
<circle cx="450.7" cy="230.7" r="3.5"/>
<circle cx="421.3" cy="225.2" r="4.0"/>
<circle cx="444.9" cy="232.4" r="4.5"/>
<circle cx="425.7" cy="215.7" r="3.5"/>
<circle cx="428.8" cy="237.1" r="4.0"/>
<circle cx="440.1" cy="240.8" r="3.5"/>
<circle cx="437.0" cy="215.5" r="5.0"/>
<circle cx="421.0" cy="235.6" r="5.5"/>
<circle cx="445.7" cy="213.5" r="3.5"/>
<circle cx="442.5" cy="213.9" r="4.0"/>
<circle cx="435.1" cy="239.7" r="4.5"/>
<circle cx="446.7" cy="220.1" r="5.0"/>
<circle cx="433.5" cy="238.5" r="3.0"/>
<circle cx="445.8" cy="217.3" r="4.5"/>
<circle cx="436.8" cy="215.7" r="5.0"/>
<circle cx="430.3" cy="220.3" r="3.0"/>
<circle cx="430.2" cy="225.0" r="5.0"/>
<circle cx="431.8" cy="231.6" r="3.0"/>
<circle cx="432.8" cy="224.9" r="6.0"/>
<circle cx="445.9" cy="230.6" r="2.5"/>
<circle cx="432.3" cy="232.3" r="3.5"/>
<circle cx="467.9" cy="224.7" r="2.5"/>
<circle cx="480.7" cy="235.0" r="3.5"/>
<circle cx="349.5" cy="249.7" r="4.0"/>
<circle cx="347.2" cy="249.9" r="4.0"/>
<circle cx="342.8" cy="261.0" r="3.5"/>
<circle cx="337.0" cy="262.9" r="3.5"/>
<circle cx="359.4" cy="257.9" r="5.0"/>
<circle cx="340.9" cy="265.8" r="3.0"/>
<circle cx="335.2" cy="243.8" r="4.5"/>
<circle cx="352.2" cy="246.4" r="4.0"/>
<circle cx="356.1" cy="258.8" r="3.0"/>
<circle cx="367.8" cy="245.7" r="3.0"/>
<circle cx="373.2" cy="243.2" r="6.0"/>
<circle cx="373.8" cy="256.3" r="4.5"/>
<circle cx="384.0" cy="265.6" r="4.0"/>
<circle cx="370.9" cy="253.4" r="2.5"/>
<circle cx="373.0" cy="262.0" r="7.0"/>
<circle cx="384.7" cy="260.8" r="4.5"/>
<circle cx="361.6" cy="250.9" r="4.0"/>
<circle cx="380.5" cy="244.2" r="4.0"/>
<circle cx="376.3" cy="264.7" r="5.0"/>
<circle cx="379.3" cy="245.8" r="5.0"/>
<circle cx="388.1" cy="257.4" r="4.0"/>
<circle cx="376.0" cy="245.3" r="5.0"/>
<circle cx="390.6" cy="256.5" r="5.0"/>
<circle cx="386.1" cy="246.9" r="6.0"/>
<circle cx="379.8" cy="246.9" r="3.0"/>
<circle cx="368.3" cy="258.3" r="5.0"/>
<circle cx="370.9" cy="268.9" r="4.0"/>
<circle cx="374.9" cy="244.7" r="7.0"/>
<circle cx="365.1" cy="268.1" r="4.5"/>
<circle cx="377.8" cy="257.8" r="3.5"/>
<circle cx="388.3" cy="270.8" r="5.0"/>
<circle cx="379.0" cy="244.7" r="5.0"/>
<circle cx="369.7" cy="267.9" r="3.5"/>
<circle cx="378.2" cy="265.9" r="3.5"/>
<circle cx="377.4" cy="243.3" r="2.5"/>
<circle cx="366.4" cy="270.6" r="6.0"/>
<circle cx="410.8" cy="250.2" r="4.5"/>
<circle cx="413.1" cy="252.4" r="4.5"/>
<circle cx="415.1" cy="241.5" r="3.5"/>
<circle cx="405.0" cy="245.3" r="4.0"/>
<circle cx="408.1" cy="246.2" r="4.0"/>
<circle cx="398.9" cy="258.0" r="3.5"/>
<circle cx="410.3" cy="242.1" r="4.5"/>
<circle cx="395.3" cy="269.8" r="4.5"/>
<circle cx="405.1" cy="253.3" r="4.5"/>
<circle cx="411.7" cy="263.7" r="5.0"/>
<circle cx="405.6" cy="270.8" r="5.5"/>
<circle cx="416.7" cy="253.3" r="4.0"/>
<circle cx="408.0" cy="268.2" r="4.0"/>
<circle cx="406.8" cy="254.0" r="5.5"/>
<circle cx="400.6" cy="242.6" r="5.0"/>
<circle cx="418.0" cy="263.0" r="4.5"/>
<circle cx="413.6" cy="250.1" r="4.5"/>
<circle cx="393.1" cy="244.7" r="4.0"/>
<circle cx="406.1" cy="252.9" r="2.5"/>
<circle cx="411.8" cy="256.8" r="3.5"/>
<circle cx="400.2" cy="252.9" r="3.5"/>
<circle cx="393.1" cy="268.3" r="6.0"/>
<circle cx="411.0" cy="267.0" r="4.0"/>
<circle cx="415.2" cy="247.7" r="5.0"/>
<circle cx="438.0" cy="268.1" r="3.0"/>
<circle cx="444.8" cy="244.7" r="4.5"/>
<circle cx="449.5" cy="241.0" r="3.5"/>
<circle cx="430.0" cy="250.7" r="3.0"/>
<circle cx="447.9" cy="265.5" r="4.0"/>
<circle cx="431.7" cy="258.6" r="2.5"/>
<circle cx="421.9" cy="268.0" r="3.5"/>
<circle cx="436.0" cy="269.0" r="7.0"/>
<circle cx="435.2" cy="247.2" r="3.5"/>
<circle cx="448.7" cy="267.9" r="3.5"/>
<circle cx="446.1" cy="251.6" r="4.0"/>
<circle cx="426.2" cy="267.4" r="7.0"/>
<circle cx="427.1" cy="260.0" r="3.5"/>
<circle cx="447.4" cy="242.5" r="3.0"/>
<circle cx="352.8" cy="280.4" r="5.5"/>
<circle cx="357.1" cy="292.4" r="3.0"/>
<circle cx="351.9" cy="299.1" r="4.0"/>
<circle cx="333.4" cy="277.7" r="3.5"/>
<circle cx="352.3" cy="276.9" r="3.5"/>
<circle cx="338.1" cy="290.9" r="5.0"/>
<circle cx="342.2" cy="290.9" r="5.5"/>
<circle cx="348.7" cy="277.9" r="3.5"/>
<circle cx="358.8" cy="291.0" r="3.5"/>
<circle cx="350.2" cy="273.7" r="7.0"/>
<circle cx="344.2" cy="286.8" r="4.5"/>
<circle cx="332.4" cy="289.0" r="3.5"/>
<circle cx="338.5" cy="295.1" r="3.0"/>
<circle cx="339.6" cy="293.7" r="3.5"/>
<circle cx="339.4" cy="287.4" r="3.5"/>
<circle cx="357.9" cy="300.6" r="2.5"/>
<circle cx="344.8" cy="293.5" r="4.0"/>
<circle cx="358.9" cy="286.0" r="3.5"/>
<circle cx="347.7" cy="290.3" r="4.0"/>
<circle cx="380.7" cy="294.5" r="4.0"/>
<circle cx="376.2" cy="296.4" r="4.5"/>
<circle cx="376.6" cy="299.5" r="3.5"/>
<circle cx="384.4" cy="276.0" r="4.5"/>
<circle cx="368.1" cy="284.2" r="5.0"/>
<circle cx="384.6" cy="294.7" r="3.5"/>
<circle cx="375.7" cy="277.6" r="4.5"/>
<circle cx="376.0" cy="272.1" r="4.5"/>
<circle cx="382.4" cy="288.2" r="5.5"/>
<circle cx="366.4" cy="275.6" r="2.5"/>
<circle cx="375.9" cy="284.0" r="4.0"/>
<circle cx="368.9" cy="295.0" r="3.0"/>
<circle cx="388.2" cy="288.1" r="4.5"/>
<circle cx="384.7" cy="278.1" r="3.0"/>
<circle cx="370.3" cy="272.3" r="3.5"/>
<circle cx="379.6" cy="286.8" r="3.5"/>
<circle cx="378.7" cy="273.7" r="5.0"/>
<circle cx="366.1" cy="278.6" r="3.0"/>
<circle cx="381.7" cy="295.9" r="5.0"/>
<circle cx="392.8" cy="283.3" r="4.0"/>
<circle cx="397.5" cy="300.1" r="2.5"/>
<circle cx="345.7" cy="323.8" r="7.0"/>
<circle cx="335.3" cy="314.7" r="5.0"/>
<circle cx="332.2" cy="308.2" r="5.5"/>
<circle cx="335.2" cy="312.8" r="3.5"/>
<circle cx="343.7" cy="303.3" r="2.5"/>
<circle cx="360.9" cy="323.9" r="5.0"/>
<circle cx="337.9" cy="308.6" r="4.5"/>
<circle cx="338.3" cy="314.8" r="6.0"/>
<circle cx="371.9" cy="311.1" r="7.0"/>
<circle cx="379.3" cy="302.2" r="4.0"/>
<circle cx="380.5" cy="302.8" r="4.0"/>
<circle cx="381.8" cy="326.9" r="4.5"/>
<circle cx="387.6" cy="314.9" r="4.0"/>
<circle cx="386.3" cy="312.4" r="5.0"/>
<circle cx="367.5" cy="311.4" r="3.5"/>
<circle cx="448.0" cy="184.3" r="3.5"/>
<circle cx="442.2" cy="194.1" r="3.5"/>
<circle cx="449.7" cy="207.2" r="5.5"/>
<circle cx="409.2" cy="208.7" r="4.0"/>
<circle cx="393.1" cy="216.5" r="3.5"/>
<circle cx="382.1" cy="214.5" r="3.5"/>
<circle cx="397.3" cy="182.9" r="5.0"/>
<circle cx="430.9" cy="221.2" r="4.0"/>
<circle cx="413.8" cy="224.4" r="5.0"/>
<circle cx="458.0" cy="160.8" r="5.5"/>
<circle cx="387.0" cy="219.9" r="3.0"/>
<circle cx="486.8" cy="162.5" r="3.5"/>
<circle cx="463.0" cy="157.2" r="4.0"/>
<circle cx="412.8" cy="206.1" r="2.5"/>
<circle cx="402.3" cy="211.4" r="3.5"/>
<circle cx="430.3" cy="189.0" r="4.5"/>
<circle cx="400.8" cy="212.7" r="5.0"/>
<circle cx="448.3" cy="161.0" r="3.0"/>
<circle cx="406.8" cy="205.8" r="4.0"/>
<circle cx="444.1" cy="212.9" r="5.5"/>
<circle cx="409.5" cy="204.7" r="3.5"/>
<circle cx="402.7" cy="234.2" r="2.5"/>
<circle cx="435.2" cy="152.9" r="7.0"/>
<circle cx="411.6" cy="192.5" r="4.5"/>
<circle cx="484.7" cy="152.5" r="4.5"/>
<circle cx="500.4" cy="163.8" r="5.5"/>
<circle cx="409.8" cy="203.3" r="4.0"/>
<circle cx="425.3" cy="189.5" r="3.0"/>
<circle cx="422.0" cy="187.5" r="3.5"/>
<circle cx="416.0" cy="226.0" r="4.0"/>
<circle cx="444.6" cy="195.4" r="3.5"/>
<circle cx="412.0" cy="234.6" r="4.0"/>
<circle cx="439.6" cy="200.3" r="5.0"/>
<circle cx="455.8" cy="192.9" r="5.0"/>
<circle cx="384.1" cy="215.9" r="3.0"/>
<circle cx="436.1" cy="199.8" r="2.5"/>
<circle cx="429.0" cy="172.9" r="3.5"/>
<circle cx="408.8" cy="198.2" r="2.5"/>
<circle cx="434.5" cy="209.6" r="3.5"/>
<circle cx="447.8" cy="160.1" r="3.5"/>
<circle cx="417.0" cy="164.2" r="4.0"/>
<circle cx="430.0" cy="157.7" r="6.0"/>
<circle cx="456.5" cy="149.3" r="4.0"/>
<circle cx="420.6" cy="179.3" r="3.5"/>
<circle cx="479.8" cy="164.9" r="5.5"/>
<circle cx="386.3" cy="215.4" r="3.0"/>
<circle cx="436.6" cy="179.5" r="7.0"/>
<circle cx="413.5" cy="224.9" r="3.5"/>
<circle cx="409.0" cy="203.6" r="2.5"/>
<circle cx="436.9" cy="172.5" r="4.0"/>
<circle cx="398.4" cy="188.8" r="4.5"/>
<circle cx="452.5" cy="174.4" r="4.5"/>
<circle cx="481.7" cy="166.9" r="4.0"/>
<circle cx="476.2" cy="149.3" r="3.5"/>
<circle cx="455.7" cy="159.7" r="6.0"/>
<circle cx="457.0" cy="139.2" r="3.0"/>
<circle cx="438.3" cy="158.2" r="4.0"/>
<circle cx="418.8" cy="203.5" r="5.0"/>
<circle cx="443.4" cy="182.1" r="3.5"/>
<circle cx="415.0" cy="220.9" r="4.0"/>
<circle cx="405.6" cy="220.4" r="3.0"/>
<circle cx="461.4" cy="168.6" r="3.0"/>
<circle cx="436.2" cy="190.3" r="3.0"/>
<circle cx="464.3" cy="139.3" r="5.5"/>
<circle cx="394.5" cy="221.9" r="5.0"/>
<circle cx="441.0" cy="208.0" r="5.0"/>
<circle cx="412.6" cy="203.1" r="4.0"/>
<circle cx="456.3" cy="151.6" r="5.5"/>
<circle cx="462.4" cy="144.7" r="5.0"/>
<circle cx="447.3" cy="168.6" r="5.0"/>
<circle cx="476.6" cy="167.0" r="4.5"/>
<circle cx="419.6" cy="215.6" r="3.5"/>
<circle cx="369.6" cy="200.7" r="6.0"/>
<circle cx="390.2" cy="200.6" r="4.5"/>
<circle cx="424.3" cy="182.8" r="6.0"/>
<circle cx="480.6" cy="133.7" r="2.5"/>
<circle cx="463.0" cy="168.8" r="3.5"/>
<circle cx="464.6" cy="167.0" r="7.0"/>
<circle cx="400.3" cy="215.3" r="4.5"/>
<circle cx="439.8" cy="188.2" r="4.0"/>
<circle cx="426.5" cy="207.8" r="3.5"/>
<circle cx="409.8" cy="171.4" r="4.5"/>
<circle cx="476.2" cy="173.7" r="4.5"/>
<circle cx="442.8" cy="178.9" r="5.0"/>
<circle cx="406.3" cy="217.0" r="6.0"/>
<circle cx="418.9" cy="210.6" r="4.0"/>
<circle cx="400.5" cy="215.5" r="4.5"/>
<circle cx="405.6" cy="216.8" r="4.5"/>
<circle cx="418.5" cy="205.5" r="4.0"/>
<circle cx="427.1" cy="218.6" r="2.5"/>
<circle cx="402.8" cy="229.6" r="3.0"/>
<circle cx="402.1" cy="204.8" r="4.0"/>
<circle cx="495.3" cy="149.2" r="4.0"/>
<circle cx="450.7" cy="215.0" r="5.0"/>
<circle cx="441.3" cy="207.6" r="4.5"/>
<circle cx="456.4" cy="179.3" r="3.5"/>
<circle cx="505.2" cy="172.8" r="4.0"/>
<circle cx="447.8" cy="126.4" r="5.0"/>
<circle cx="413.2" cy="219.2" r="3.0"/>
<circle cx="397.9" cy="221.7" r="4.0"/>
<circle cx="460.2" cy="157.3" r="2.5"/>
<circle cx="422.0" cy="222.6" r="6.0"/>
<circle cx="371.9" cy="204.0" r="5.0"/>
<circle cx="459.7" cy="160.5" r="4.0"/>
<circle cx="478.0" cy="168.3" r="7.0"/>
<circle cx="383.9" cy="199.9" r="6.0"/>
<circle cx="427.5" cy="190.0" r="5.5"/>
<circle cx="384.2" cy="215.9" r="4.5"/>
<circle cx="404.5" cy="198.6" r="4.5"/>
<circle cx="476.9" cy="165.4" r="4.0"/>
<circle cx="448.1" cy="166.5" r="5.5"/>
<circle cx="428.2" cy="207.3" r="3.0"/>
<circle cx="422.5" cy="197.9" r="5.0"/>
<circle cx="436.9" cy="172.0" r="4.5"/>
<circle cx="411.7" cy="217.1" r="4.0"/>
<circle cx="436.0" cy="194.4" r="2.5"/>
<circle cx="432.2" cy="175.2" r="4.5"/>
<circle cx="489.8" cy="151.9" r="3.5"/>
<circle cx="470.0" cy="143.1" r="3.0"/>
<circle cx="503.8" cy="161.2" r="4.0"/>
<circle cx="487.7" cy="147.3" r="5.0"/>
<circle cx="417.6" cy="224.0" r="3.5"/>
<circle cx="465.8" cy="179.4" r="3.5"/>
<circle cx="422.2" cy="193.0" r="7.0"/>
<circle cx="397.5" cy="206.4" r="4.5"/>
<circle cx="403.1" cy="199.9" r="4.5"/>
<circle cx="487.2" cy="161.9" r="4.0"/>
<circle cx="434.7" cy="165.0" r="3.0"/>
<circle cx="469.0" cy="150.6" r="4.5"/>
<circle cx="420.8" cy="178.7" r="4.0"/>
<circle cx="401.5" cy="194.4" r="4.0"/>
<circle cx="384.7" cy="214.7" r="4.5"/>
<circle cx="422.5" cy="175.2" r="6.0"/>
<circle cx="396.9" cy="204.8" r="4.0"/>
<circle cx="488.0" cy="141.5" r="5.0"/>
<circle cx="479.4" cy="132.1" r="4.0"/>
<circle cx="498.2" cy="178.9" r="4.0"/>
<circle cx="435.3" cy="233.4" r="5.5"/>
<circle cx="472.3" cy="192.8" r="5.0"/>
<circle cx="433.1" cy="174.5" r="7.0"/>
<circle cx="407.1" cy="234.5" r="3.5"/>
<circle cx="458.2" cy="144.1" r="4.0"/>
<circle cx="447.6" cy="186.5" r="3.5"/>
<circle cx="448.7" cy="166.0" r="3.0"/>
<circle cx="447.7" cy="182.9" r="3.5"/>
<circle cx="457.7" cy="145.0" r="5.5"/>
<circle cx="445.1" cy="136.0" r="5.0"/>
<circle cx="397.7" cy="205.9" r="4.0"/>
<circle cx="408.7" cy="229.2" r="5.5"/>
<circle cx="475.0" cy="158.4" r="3.0"/>
<path d="M77.10,481.94 L85.65,475.08 L94.19,468.22 L102.74,461.36 L111.29,454.50 L119.83,447.64 L128.38,440.78 L136.93,433.92 L145.47,427.06 L154.02,420.19 L162.57,413.33 L171.11,406.47 L179.66,399.61 L188.21,392.75 L196.75,385.88 L205.30,379.02 L213.85,372.16 L222.39,365.29 L230.94,358.43 L239.49,351.56 L248.03,344.69 L256.58,337.82 L265.13,330.95 L273.67,324.08 L282.22,317.21 L290.77,310.33 L299.31,303.46 L307.86,296.57 L316.41,289.69 L324.95,282.79 L333.50,275.89 L342.05,268.98 L350.59,262.06 L359.14,255.11 L367.69,248.14 L376.23,241.12 L384.78,234.05 L393.33,226.89 L401.87,219.65 L410.42,212.30 L418.97,204.86 L427.51,197.35 L436.06,189.80 L444.61,182.20 L453.15,174.58 L461.70,166.95 L470.25,159.30 L478.79,151.64 L487.34,143.98 L495.89,136.31 L504.43,128.63 L512.98,120.95 L521.53,113.27 L530.07,105.59 L538.62,97.90 L547.17,90.22 L555.71,82.53 L564.26,74.84 L572.81,67.15 L581.35,59.46 L589.90,51.77 L589.90,70.77 L581.35,77.64 L572.81,84.50 L564.26,91.37 L555.71,98.23 L547.17,105.10 L538.62,111.97 L530.07,118.84 L521.53,125.71 L512.98,132.59 L504.43,139.47 L495.89,146.35 L487.34,153.23 L478.79,160.12 L470.25,167.02 L461.70,173.93 L453.15,180.85 L444.61,187.78 L436.06,194.75 L427.51,201.74 L418.97,208.79 L410.42,215.91 L401.87,223.12 L393.33,230.42 L384.78,237.83 L376.23,245.31 L367.69,252.85 L359.14,260.43 L350.59,268.04 L342.05,275.67 L333.50,283.31 L324.95,290.97 L316.41,298.63 L307.86,306.30 L299.31,313.97 L290.77,321.65 L282.22,329.33 L273.67,337.01 L265.13,344.70 L256.58,352.38 L248.03,360.07 L239.49,367.76 L230.94,375.45 L222.39,383.14 L213.85,390.83 L205.30,398.52 L196.75,406.21 L188.21,413.90 L179.66,421.60 L171.11,429.29 L162.57,436.98 L154.02,444.68 L145.47,452.37 L136.93,460.07 L128.38,467.76 L119.83,475.46 L111.29,483.15 L102.74,490.85 L94.19,498.55 L85.65,506.24 L77.10,513.94Z" fill="#999" fill-opacity="0.4" stroke="none"/>
<line x1="77.10" y1="497.94" x2="589.90" y2="61.27" stroke="#000" stroke-width="2.5"/>
<line x1="47.7" y1="599.60" x2="51.3" y2="599.60" stroke="#333" stroke-width="1.5"/>
<line x1="77.10" y1="627.9" x2="77.10" y2="631.7" stroke="#333" stroke-width="1.5"/>
<line x1="47.7" y1="454.20" x2="51.3" y2="454.20" stroke="#333" stroke-width="1.5"/>
<line x1="205.30" y1="627.9" x2="205.30" y2="631.7" stroke="#333" stroke-width="1.5"/>
<line x1="47.7" y1="308.80" x2="51.3" y2="308.80" stroke="#333" stroke-width="1.5"/>
<line x1="333.50" y1="627.9" x2="333.50" y2="631.7" stroke="#333" stroke-width="1.5"/>
<line x1="47.7" y1="163.40" x2="51.3" y2="163.40" stroke="#333" stroke-width="1.5"/>
<line x1="461.70" y1="627.9" x2="461.70" y2="631.7" stroke="#333" stroke-width="1.5"/>
<line x1="47.7" y1="18.00" x2="51.3" y2="18.00" stroke="#333" stroke-width="1.5"/>
<line x1="589.90" y1="627.9" x2="589.90" y2="631.7" stroke="#333" stroke-width="1.5"/>
</g>
<rect x="638.3" y="265" width="24" height="121.3" fill="#F2F2F2"/>
<g fill="none" stroke="#1a1a1a" stroke-width="1.05"><circle cx="650.3" cy="277.1" r="5.1"/><circle cx="650.3" cy="301.3" r="6.9"/><circle cx="650.3" cy="325.4" r="7.6"/><circle cx="650.3" cy="349.6" r="8.4"/><circle cx="650.3" cy="373.8" r="9.0"/></g>
</svg>
<div class="s yl" style="left:4.600000000000001px;top:592.10px">0.00</div><div class="s yl" style="left:4.600000000000001px;top:446.70px">0.25</div><div class="s yl" style="left:4.600000000000001px;top:301.30px">0.50</div><div class="s yl" style="left:4.600000000000001px;top:155.90px">0.75</div><div class="s yl" style="left:4.600000000000001px;top:10.50px">1.00</div><div class="s xl" style="left:57.10px;top:633px">0.00</div><div class="s xl" style="left:185.30px;top:633px">0.25</div><div class="s xl" style="left:313.50px;top:633px">0.50</div><div class="s xl" style="left:441.70px;top:633px">0.75</div><div class="s xl" style="left:569.90px;top:633px">1.00</div><div class="s ll" style="left:670px;top:269.60px">10</div><div class="s ll" style="left:670px;top:293.77px">20</div><div class="s ll" style="left:670px;top:317.94px">30</div><div class="s ll" style="left:670px;top:342.11px">40</div><div class="s ll" style="left:670px;top:366.28px">50</div>
<div class="s t" style="left:637.9px;top:242px">Count</div>
<div class="s t" style="left:212px;top:647.8px;font-size:30.8px">Mean centre algorithm&#8722;consistency</div>
<div class="s t" style="left:-1.4px;top:376.3px;transform:rotate(-90deg) scale(0.5);font-size:31.6px">Mean centre TTR</div>
</div></body></html>
